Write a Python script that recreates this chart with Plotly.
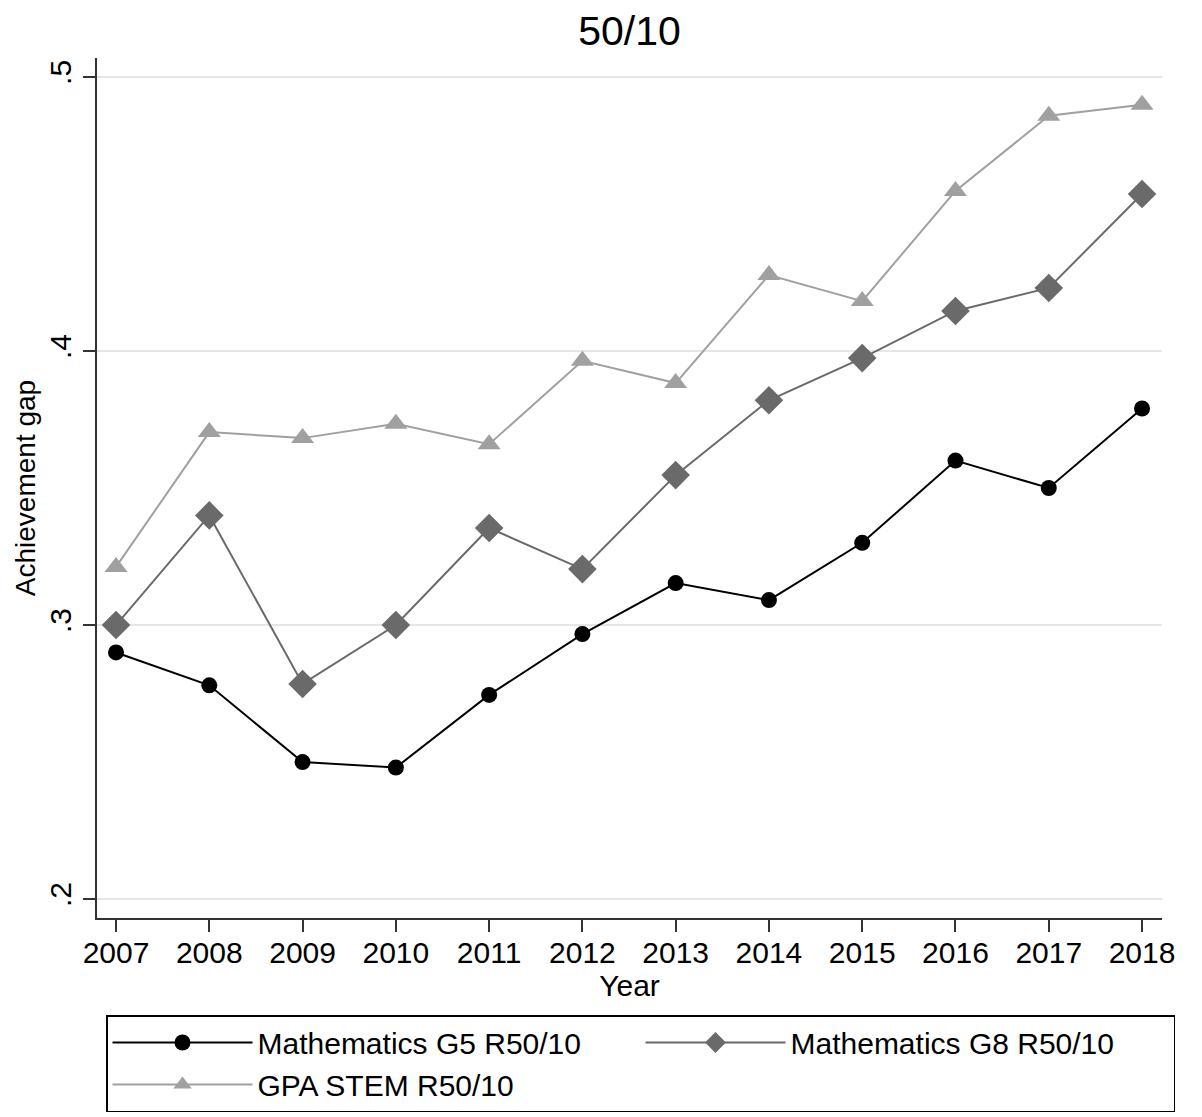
import plotly.graph_objects as go

years = [2007, 2008, 2009, 2010, 2011, 2012, 2013, 2014, 2015, 2016, 2017, 2018]
math_g5 = [0.290, 0.278, 0.250, 0.248, 0.2745, 0.2967, 0.3153, 0.3091, 0.330, 0.360, 0.350, 0.379]
math_g8 = [0.300, 0.340, 0.2785, 0.300, 0.3354, 0.3204, 0.3547, 0.382, 0.3974, 0.4146, 0.423, 0.4573]
gpa_stem = [0.3212, 0.3704, 0.3682, 0.3734, 0.366, 0.3964, 0.3883, 0.4277, 0.4182, 0.4584, 0.4858, 0.4898]
y_ticks = [0.2, 0.3, 0.4, 0.5]
y_tick_labels = [".2", ".3", ".4", ".5"]

FONT = "Liberation Sans, Arial, Helvetica, sans-serif"

fig = go.Figure()
fig.add_trace(go.Scatter(x=years, y=math_g5, mode="lines+markers", name="Mathematics G5 R50/10",
                         line=dict(color="#000000", width=2),
                         marker=dict(symbol="circle", size=16, color="#000000")))
fig.add_trace(go.Scatter(x=years, y=math_g8, mode="lines+markers", name="Mathematics G8 R50/10",
                         line=dict(color="#6a6a6a", width=2),
                         marker=dict(symbol="diamond", size=22, color="#6a6a6a")))
fig.add_trace(go.Scatter(x=years, y=gpa_stem, mode="lines+markers", name="GPA STEM R50/10",
                         line=dict(color="#a0a0a0", width=2),
                         marker=dict(symbol="triangle-up", size=20, color="#a0a0a0")))

fig.update_layout(
    width=1202, height=1117,
    paper_bgcolor="white", plot_bgcolor="white",
    margin=dict(l=97, r=40, t=58, b=199, autoexpand=False),
    font=dict(family=FONT, color="#000000", size=30),
    title=dict(text="50/10", x=0.5, xref="paper", xanchor="center", y=0.973, yanchor="middle",
               font=dict(size=41, family=FONT, color="#000000")),
    showlegend=True,
    legend=dict(orientation="h", x=1.01221, xanchor="right", y=-0.1128, yanchor="top",
                bordercolor="#000000", borderwidth=1.5, bgcolor="white",
                font=dict(size=30, family=FONT, color="#000000"),
                entrywidth=378, entrywidthmode="pixels", itemwidth=140,
                tracegroupgap=0),
)

fig.update_xaxes(
    range=[2006.796, 2018.214], tickmode="array", tickvals=years,
    ticks="outside", ticklen=12, tickwidth=2, tickcolor="#333333",
    showline=True, linecolor="#333333", linewidth=2, mirror=False,
    showgrid=False, zeroline=False, automargin=False, ticklabelstandoff=-5,
    tickfont=dict(size=30, family=FONT, color="#000000"),
    title=dict(text="Year", font=dict(size=30, family=FONT, color="#000000"), standoff=0),
)
fig.update_yaxes(
    range=[0.1931, 0.5069], tickmode="array", tickvals=y_ticks, ticktext=y_tick_labels,
    tickangle=-90,
    ticks="outside", ticklen=12, tickwidth=2, tickcolor="#333333",
    showline=True, linecolor="#333333", linewidth=2,
    showgrid=True, gridcolor="#e6e6e6", gridwidth=2, zeroline=False, automargin=False,
    tickfont=dict(size=30, family=FONT, color="#000000"),
    title=dict(text="Achievement gap", font=dict(size=28, family=FONT, color="#000000"), standoff=0),
)

fig.write_html("out.html", config={"displayModeBar": False},
               post_script="document.body.style.margin='0px';")
